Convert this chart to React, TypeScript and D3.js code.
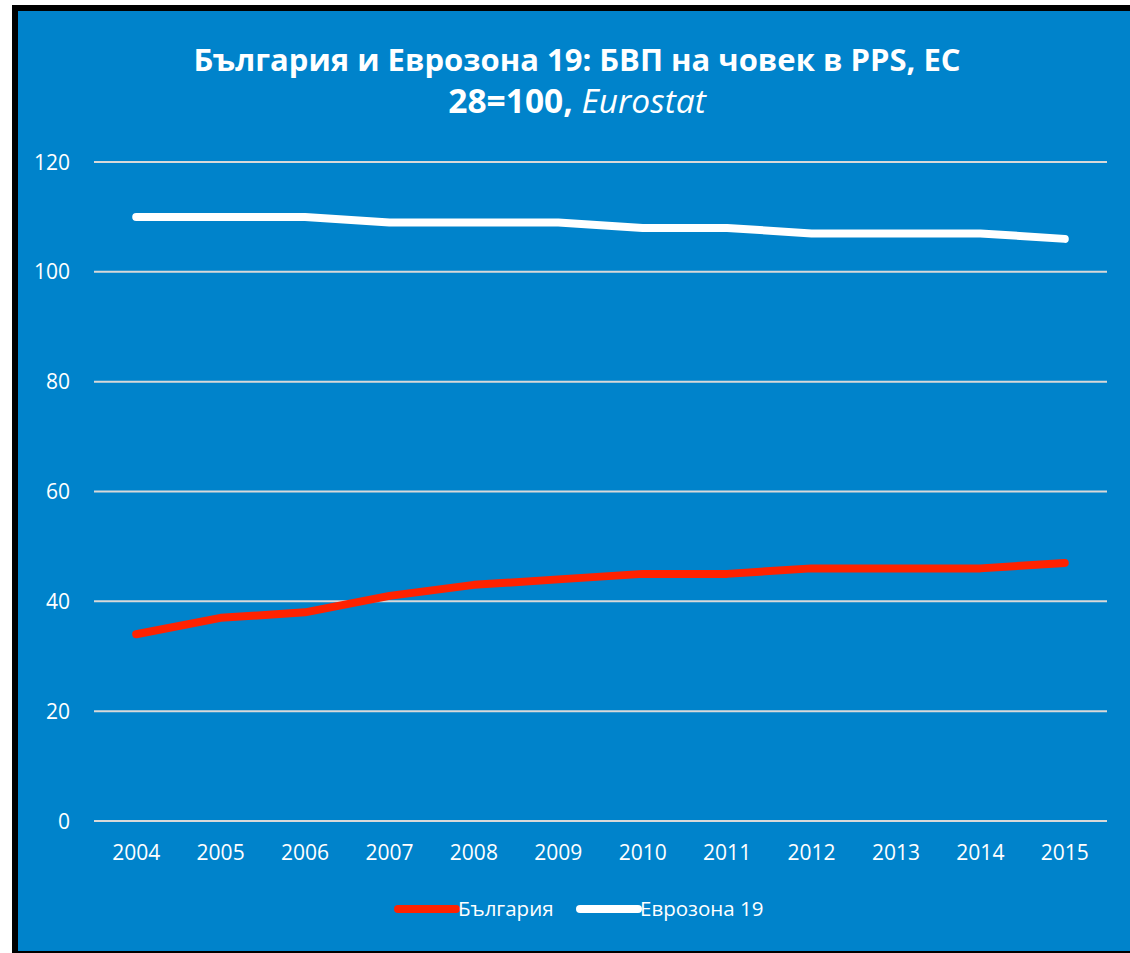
import React from "react";
import * as d3 from "d3";

const years = ["2004", "2005", "2006", "2007", "2008", "2009", "2010", "2011", "2012", "2013", "2014", "2015"];
const bulgaria = [34, 37, 38, 41, 43, 44, 45, 45, 46, 46, 46, 47];
const eurozone = [110, 110, 110, 109, 109, 109, 108, 108, 107, 107, 107, 106];
const yTicks = [0, 20, 40, 60, 80, 100, 120];
const seriesNames = ["България", "Еврозона 19"];
const seriesColors = ["#FF2200", "#FFFFFF"];

const W = 1130;
const H = 953;
const BLUE = "#0083CB";
const FONT = "'Open Sans', sans-serif";

export default function App() {
  const x = d3.scalePoint<string>().domain(years).range([94, 1107]).padding(0.5);
  const y = d3.scaleLinear().domain([0, 120]).range([821, 162]);
  const line = d3
    .line<number>()
    .x((_, i) => x(years[i]) as number)
    .y((d) => y(d));

  const series = [bulgaria, eurozone];

  return (
    <div>
      <style>{`body{margin:0}`}</style>
      <svg width={W} height={H} style={{ display: "block" }}>
        <rect x={0} y={0} width={W} height={H} fill="#FFFFFF" />
        <rect x={12} y={5} width={W - 12} height={H - 5} fill="#000000" />
        <rect x={18} y={11} width={W - 18} height={940} fill={BLUE} />

        <text x={577} y={71} textAnchor="middle" fill="#FFFFFF" fontFamily={FONT} fontWeight="bold" fontSize={31}>
          България и Еврозона 19: БВП на човек в PPS, ЕС
        </text>
        <text x={577} y={113} textAnchor="middle" fill="#FFFFFF" fontFamily={FONT} fontSize={33.5}>
          <tspan fontWeight="bold">28=100, </tspan>
          <tspan fontStyle="italic">Eurostat</tspan>
        </text>

        {yTicks.map((t) => (
          <g key={t}>
            <line x1={94} x2={1107} y1={y(t)} y2={y(t)} stroke="#D9D9D9" strokeWidth={2} />
            <text x={70} y={y(t) + 7.5} textAnchor="end" fill="#FFFFFF" fontFamily={FONT} fontSize={21}>
              {t}
            </text>
          </g>
        ))}

        {years.map((yr) => (
          <text key={yr} x={x(yr)} y={860} textAnchor="middle" fill="#FFFFFF" fontFamily={FONT} fontSize={21}>
            {yr}
          </text>
        ))}

        {series.map((s, i) => (
          <path
            key={i}
            d={line(s) as string}
            fill="none"
            stroke={seriesColors[i]}
            strokeWidth={8}
            strokeLinejoin="round"
            strokeLinecap="round"
          />
        ))}

        {seriesNames.map((name, i) => {
          const x0 = i === 0 ? 398 : 580;
          return (
            <g key={name}>
              <line x1={x0} x2={x0 + 58} y1={909} y2={909} stroke={seriesColors[i]} strokeWidth={8} strokeLinecap="round" />
              <text x={x0 + 60} y={916} fill="#FFFFFF" fontFamily={FONT} fontSize={20.5}>
                {name}
              </text>
            </g>
          );
        })}
      </svg>
    </div>
  );
}
